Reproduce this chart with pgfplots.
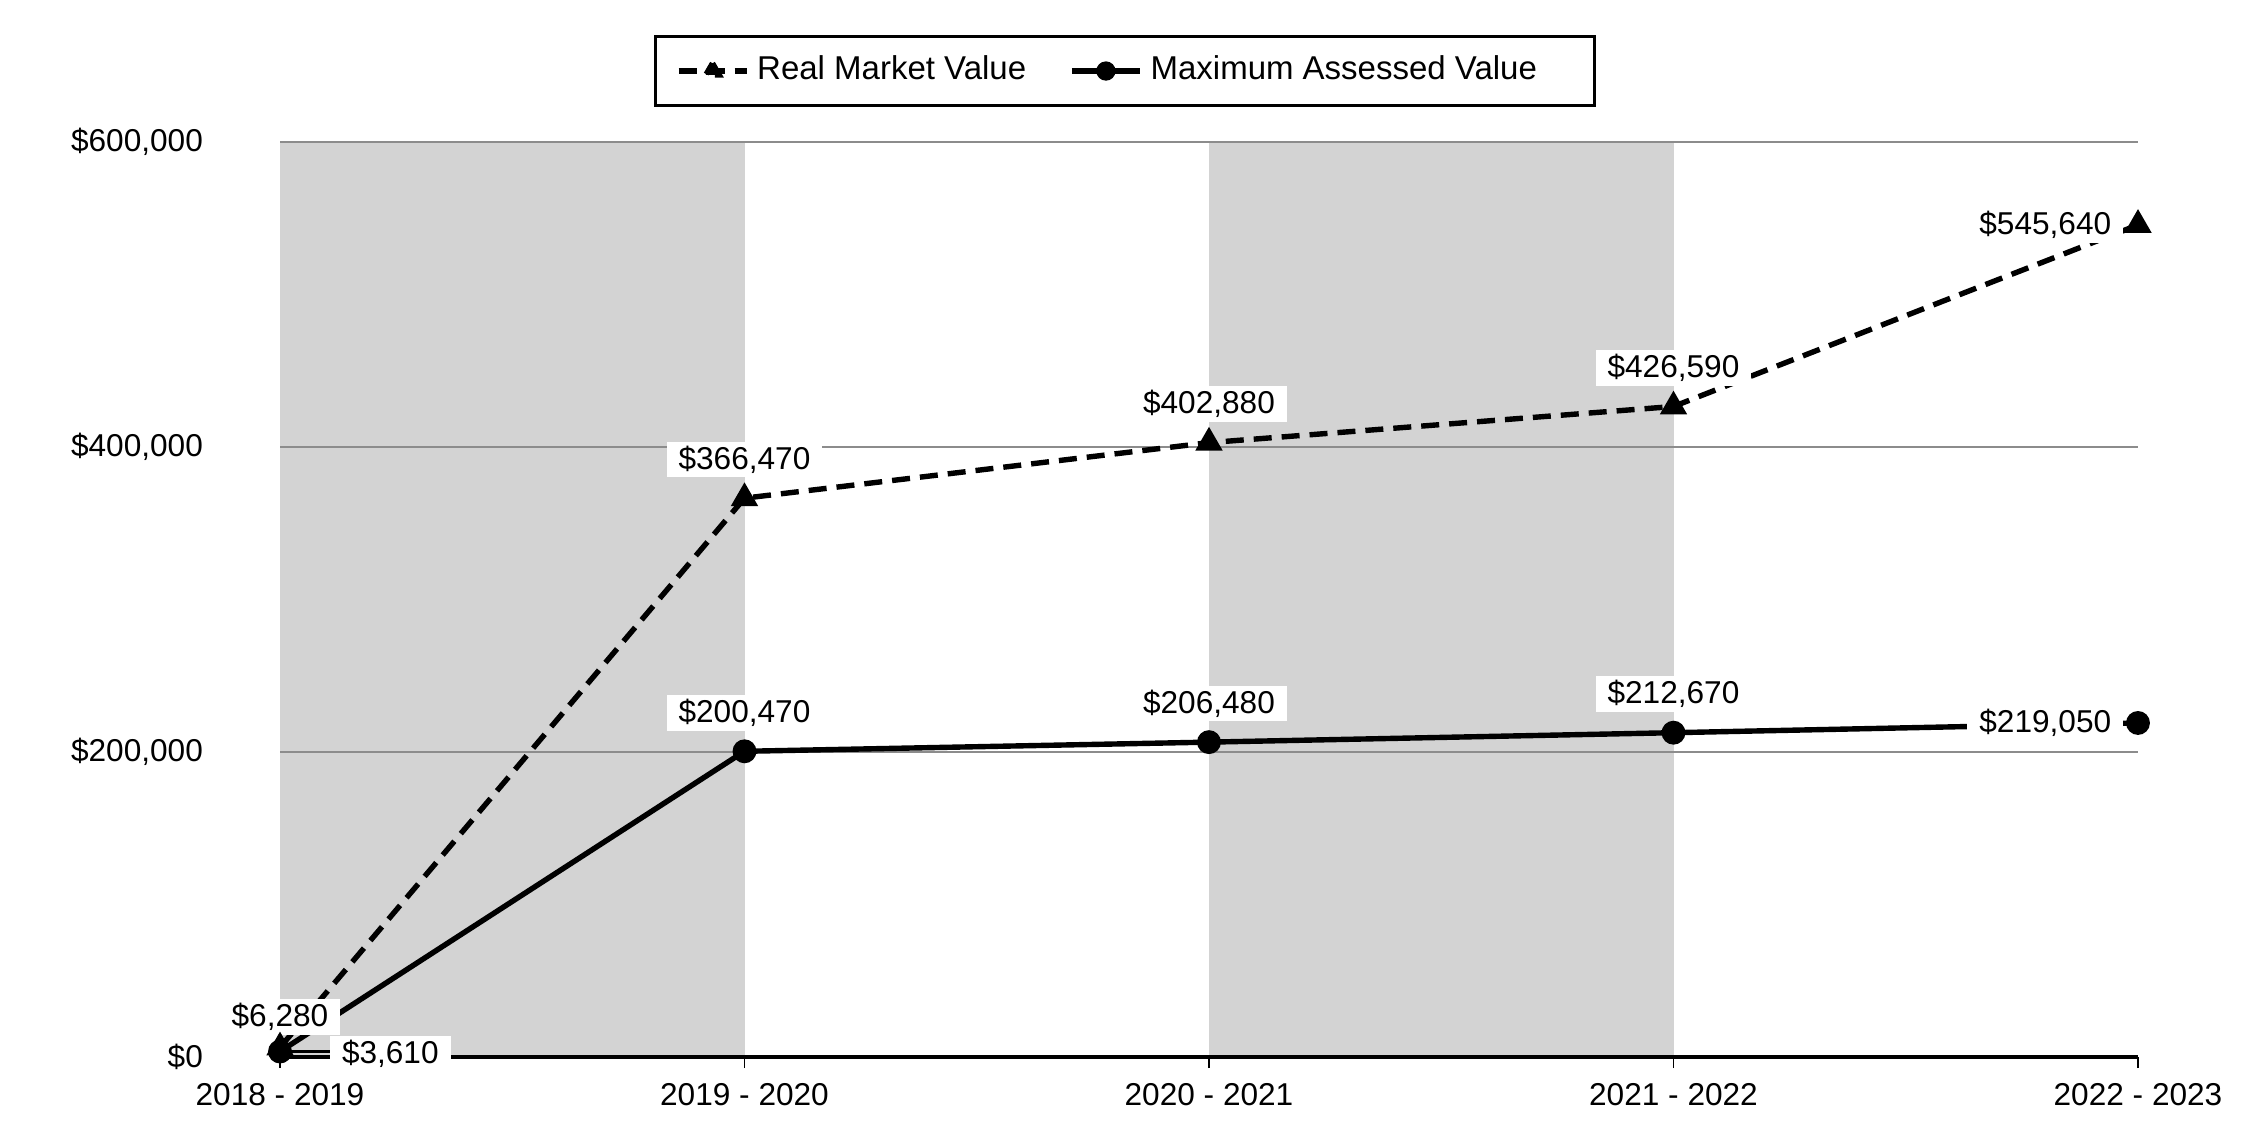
\documentclass[border=0pt]{standalone}
\usepackage{fontspec}
\setmainfont{Liberation Sans}
\usepackage{pgfplots}
\usepackage{pgfplotstable}
\pgfplotsset{compat=1.18}
\definecolor{band}{RGB}{211,211,211}
\definecolor{gridc}{RGB}{140,140,140}
\newcommand\lf{\fontsize{7.9}{9.5}\selectfont}
\newcommand\llf{\fontsize{8.25}{9.8}\selectfont}
\tikzset{lbl/.style={fill=white, inner xsep=3pt, inner ysep=1pt, font=\lf}}

\pgfplotstableread{
x rmv mav
0 6280 3610
1 366470 200470
2 402880 206480
3 426590 212670
4 545640 219050
}\datatable

\begin{document}
\begin{tikzpicture}
\begin{axis}[
  at={(70pt,20.75pt)}, anchor=south west,
  scale only axis, width=464.5pt, height=228.75pt,
  xmin=0, xmax=4, ymin=0, ymax=600000,
  clip=false, set layers,
  axis x line*=bottom, axis y line*=left,
  y axis line style={draw=none},
  x axis line style={line width=0.9pt, -},
  xtick={0,1,2,3,4},
  xticklabels={2018 - 2019, 2019 - 2020, 2020 - 2021, 2021 - 2022, 2022 - 2023},
  ytick={0,200000,400000,600000},
  yticklabels={{\$0},{\$200,000},{\$400,000},{\$600,000}},
  scaled y ticks=false,
  ymajorgrids, grid style={gridc, line width=0.5pt},
  xtick style={black, line width=0.4pt},
  ytick style={draw=none},
  tick align=outside, major tick length=2.75pt,
  tick label style={font=\lf},
  /pgf/number format/assume math mode=true,
  yticklabel style={xshift=-13pt},
  xticklabel style={yshift=-0.4pt},
  legend columns=2,
  legend style={at={(0.455,1.0776)}, anchor=center, draw=black, line width=0.75pt,
    font=\llf, inner xsep=5pt, inner ysep=3pt,
    /tikz/every even column/.append style={column sep=8.75pt}},
  legend image code/.code={\draw[mark repeat=2,mark phase=2,#1,mark options={scale=0.75}] plot coordinates {(0pt,0pt) (8.5pt,0pt) (17pt,0pt)};},
]
\addplot[on layer=axis background, draw=none, fill=band, forget plot] coordinates {(0,600000) (1,600000)} \closedcycle;
\addplot[on layer=axis background, draw=none, fill=band, forget plot] coordinates {(2,600000) (3,600000)} \closedcycle;

\addplot[black, line width=1.35pt, dash pattern=on 4.5pt off 2.5pt, mark=triangle*, mark size=2.6pt, mark options={solid}] table[x=x,y=rmv]{\datatable};
\addlegendentry{Real Market Value}
\addplot[black, line width=1.35pt, mark=*, mark size=2.3pt] table[x=x,y=mav]{\datatable};
\addlegendentry{Maximum Assessed Value\rule{7.5pt}{0pt}}

\draw[line width=0.8pt] (axis cs:0,3610) -- (axis cs:0.115,3610);
\draw[line width=0.4pt] (axis cs:0.115,0) ++(0,5.25pt) -- ++(0,-8.5pt);

\node[lbl, anchor=south, yshift=3pt] at (axis cs:0,6280) {\$6,280};
\node[lbl, anchor=west, xshift=12.3pt, yshift=-0.5pt] at (axis cs:0,3610) {\$3,610};
\node[lbl, anchor=south, yshift=5pt] at (axis cs:1,366470) {\$366,470};
\node[lbl, anchor=south, yshift=5pt] at (axis cs:2,402880) {\$402,880};
\node[lbl, anchor=south, yshift=5pt] at (axis cs:3,426590) {\$426,590};
\node[lbl, anchor=east, xshift=-3.5pt] at (axis cs:4,545640) {\$545,640};
\node[lbl, anchor=south, yshift=5pt] at (axis cs:1,200470) {\$200,470};
\node[lbl, anchor=south, yshift=5pt] at (axis cs:2,206480) {\$206,480};
\node[lbl, anchor=south, yshift=5pt] at (axis cs:3,212670) {\$212,670};
\node[lbl, anchor=east, xshift=-3.5pt] at (axis cs:4,219050) {\$219,050};
\end{axis}
\pgfresetboundingbox
\path[use as bounding box] (0,0) rectangle (562.5pt,285pt);
\end{tikzpicture}
\end{document}
